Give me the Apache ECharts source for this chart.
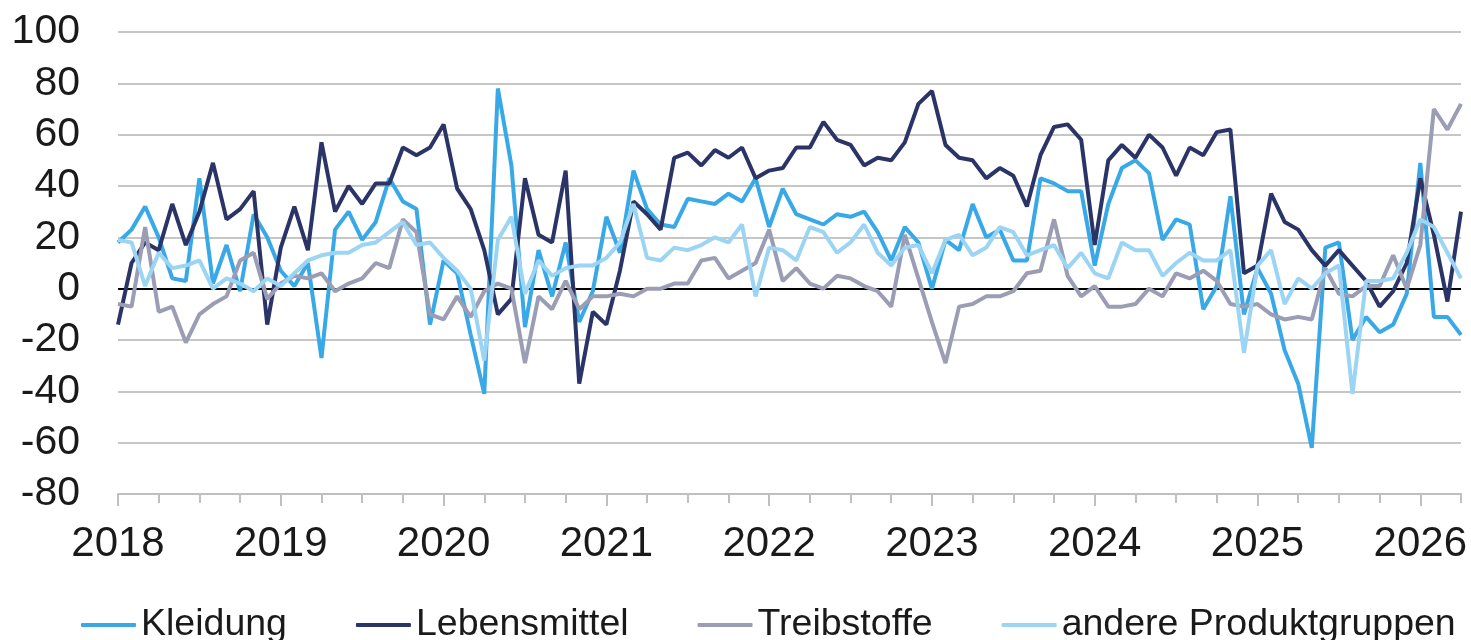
<!DOCTYPE html>
<html>
<head>
<meta charset="utf-8">
<script src="https://cdn.jsdelivr.net/npm/echarts@6/dist/echarts.min.js"></script>
<style>
  html, body { margin: 0; padding: 0; background: #fff; }
  #chart { width: 1471px; height: 640px; }
</style>
</head>
<body>
<div id="chart"></div>
<script>
// monthly values, Jan 2018 .. Apr 2026
const startYear = 2018
const monthCount = 100

const kleidung = [18, 23, 32, 20, 4, 3, 43, 2, 17, -1, 29, 20, 7, 1, 10, -27, 23, 30, 19, 26,
  43, 34, 31, -14, 11, 6, -18, -41, 78, 48, -15, 15, -3, 18, -13, -1, 28, 14, 46, 31,
  25, 24, 35, 34, 33, 37, 34, 43, 24, 39, 29, 27, 25, 29, 28, 30, 22, 11, 24, 18,
  0, 19, 15, 33, 20, 23, 11, 11, 43, 41, 38, 38, 9, 33, 47, 50, 45, 19, 27, 25,
  -8, 1, 36, -10, 8, -2, -24, -37, -62, 16, 18, -20, -11, -17, -14, -2, 49, -11, -11, -18]

const lebensmittel = [-14, 10, 18, 15, 33, 17, 30, 49, 27, 31, 38, -14, 16, 32, 15, 57, 30, 40, 33, 41,
  41, 55, 52, 55, 64, 39, 31, 15, -10, -4, 43, 21, 18, 46, -37, -9, -14, 7, 34, 29,
  23, 51, 53, 48, 54, 51, 55, 43, 46, 47, 55, 55, 65, 58, 56, 48, 51, 50, 57, 72,
  77, 56, 51, 50, 43, 47, 44, 32, 52, 63, 64, 58, 17, 50, 56, 51, 60, 55, 44, 55,
  52, 61, 62, 6, 9, 37, 26, 23, 15, 9, 15, 9, 3, -7, -1, 10, 43, 21, -5, 30]

const treibstoffe = [-6, -7, 24, -9, -7, -21, -10, -6, -3, 11, 14, -4, 2, 5, 4, 6, -1, 2, 4, 10,
  8, 27, 22, -10, -12, -3, -11, -1, 2, 0, -29, -3, -8, 3, -8, -3, -3, -2, -3, 0,
  0, 2, 2, 11, 12, 4, 7, 10, 23, 3, 8, 2, 0, 5, 4, 1, -1, -7, 21, 4,
  -13, -29, -7, -6, -3, -3, -1, 6, 7, 27, 5, -3, 1, -7, -7, -6, 0, -3, 6, 4,
  7, 3, -6, -7, -6, -10, -12, -11, -12, 8, -2, -3, 1, 1, 13, 0, 17, 70, 62, 72]

const andere = [19, 18, 1, 14, 8, 9, 11, 0, 4, 2, -1, 4, 1, 6, 11, 13, 14, 14, 17, 18,
  22, 26, 17, 18, 12, 7, 0, -28, 19, 28, -2, 11, 5, 8, 9, 9, 12, 18, 33, 12,
  11, 16, 15, 17, 20, 18, 25, -3, 16, 15, 11, 24, 22, 14, 18, 25, 14, 9, 16, 17,
  6, 19, 21, 13, 16, 24, 22, 13, 15, 17, 8, 14, 6, 4, 18, 15, 15, 5, 10, 14,
  11, 11, 15, -25, 9, 15, -6, 4, 0, 6, 9, -41, 3, 3, 4, 14, 27, 24, 14, 4]

const seriesNames = ['Kleidung', 'Lebensmittel', 'Treibstoffe', 'andere Produktgruppen']
const seriesColors = ['#38a9e6', '#2b3467', '#9a9db4', '#9cd4f4']

const months = []
for (let i = 0; i < monthCount; i++) {
  const y = startYear + Math.floor(i / 12)
  const m = (i % 12) + 1
  months.push(y + '-' + (m < 10 ? '0' + m : m))
}

const font = "'Liberation Sans', Arial, sans-serif"
const gridGray = '#c6c6c6'

const myChart = echarts.init(document.getElementById('chart'))
const allData = [kleidung, lebensmittel, treibstoffe, andere]

myChart.setOption({
  animation: false,
  textStyle: { fontFamily: font },
  grid: { left: 118, right: 10, top: 32, bottom: 146, containLabel: false },
  legend: {
    data: seriesNames,
    left: 76,
    top: 601,
    icon: 'roundRect',
    itemWidth: 55,
    itemHeight: 4,
    itemGap: 69,
    textStyle: { fontSize: 37.5, color: '#1a1a1a', fontFamily: font }
  },
  xAxis: [
    {
      type: 'category',
      data: months,
      boundaryGap: false,
      axisLine: { onZero: false, lineStyle: { color: '#bfbfbf', width: 2 } },
      axisTick: {
        interval: function (i) { return i % 3 === 0 },
        length: 9,
        lineStyle: { color: '#bfbfbf', width: 2 }
      },
      axisLabel: {
        interval: function (i) { return i % 12 === 0 },
        formatter: function (v) { return v.slice(0, 4) },
        fontSize: 42,
        margin: 29,
        color: '#1a1a1a',
        fontFamily: font
      },
      splitLine: { show: false }
    },
    {
      // longer ticks at the year marks
      type: 'category',
      data: months,
      boundaryGap: false,
      position: 'bottom',
      axisLine: { show: false, onZero: false },
      axisLabel: { show: false },
      axisTick: {
        interval: function (i) { return i % 12 === 0 },
        length: 12,
        lineStyle: { color: '#bfbfbf', width: 2 }
      }
    }
  ],
  yAxis: {
    type: 'value',
    min: -80,
    max: 100,
    interval: 20,
    axisLine: { show: false },
    axisTick: { show: false },
    axisLabel: { fontSize: 41, margin: 38, color: '#1a1a1a', fontFamily: font },
    splitLine: {
      lineStyle: {
        width: 2,
        // -80 is covered by the axis, 0 is black
        color: [gridGray, gridGray, gridGray, gridGray, '#000000', gridGray, gridGray, gridGray, gridGray, gridGray]
      }
    }
  },
  series: seriesNames.map(function (name, k) {
    return {
      name: name,
      type: 'line',
      data: allData[k],
      showSymbol: false,
      symbol: 'none',
      color: seriesColors[k],
      lineStyle: { width: 4, color: seriesColors[k] }
    }
  })
})
</script>
</body>
</html>
